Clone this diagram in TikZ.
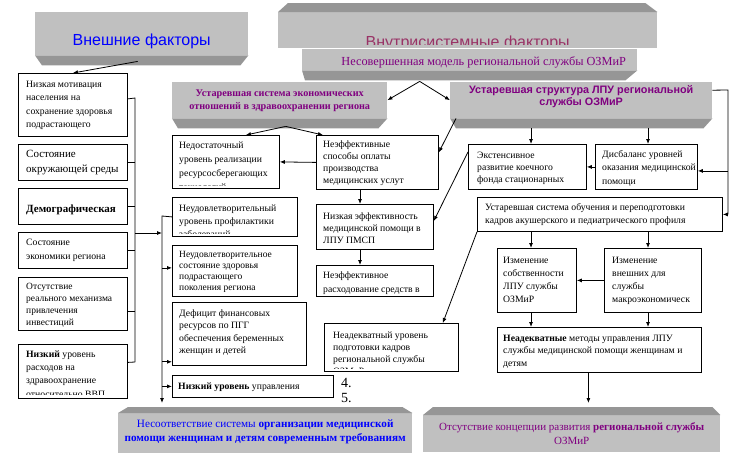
\documentclass[tikz,border=0pt]{standalone}
\usepackage{fontspec}
\setmainfont{Liberation Serif}
\newfontfamily\arial{Liberation Sans}
\usetikzlibrary{arrows.meta, calc, positioning}
\definecolor{facegray}{RGB}{192,192,192}
\definecolor{bevelgray}{RGB}{150,150,150}
\definecolor{plum}{RGB}{128,0,128}
\definecolor{rose}{RGB}{153,51,102}
\definecolor{titleblue}{RGB}{0,0,255}

\begin{document}
\begin{tikzpicture}[x=1pt, y=-1pt]

    % Define styles (text nodes sit on the baseline of their last line)
    \tikzstyle{face} = [fill=facegray, inner sep=0pt, anchor=north west]
    \tikzstyle{bevel} = [fill=bevelgray]
    \tikzstyle{factor} = [draw, line width=0.8pt, anchor=north west, inner sep=0pt]
    \tikzstyle{txt} = [anchor=base west, inner sep=0pt, align=left, font=\fontsize{9.7}{12.5}\selectfont]
    \tikzstyle{arr} = [-{Latex[length=5pt, width=4pt]}, line width=0.8pt]
    \tikzstyle{link} = [line width=0.8pt]

    \useasboundingbox (0,0) rectangle (735,458);

    % Gray title blocks
    \node[face, minimum width=213pt, minimum height=43pt] (ext) at (35,12) {};
    \fill[bevel] (ext.south west) -- (ext.south east) -- ++(-8,10) -- ($(ext.south west)+(7,10)$) -- cycle;
    \node[anchor=base, inner sep=0pt, font=\arial\fontsize{16}{18}\selectfont, text=titleblue] (ext-t) at ($(ext.north)+(0,33)$) {Внешние факторы};

    \node[face, minimum width=379pt, minimum height=36pt] (int) at (278,12) {};
    \fill[bevel] (int.north west) -- (int.north east) -- ++(-12,-9) -- ($(int.north west)+(10,-9)$) -- cycle;
    \begin{scope}
        \clip (int.north west) rectangle ($(int.south east)+(0,-4)$);
        \node[anchor=base, inner sep=0pt, font=\arial\fontsize{16}{18}\selectfont, text=rose] (int-t) at ($(int.north)+(0,35)$) {Внутрисистемные факторы};
    \end{scope}

    \node[face, minimum width=335pt, minimum height=21pt] (nesov) at (302,49) {};
    \fill[bevel] (nesov.south west) -- (nesov.south east) -- ++(-12,10) -- ($(nesov.south west)+(3,10)$) -- cycle;
    \node[anchor=base, inner sep=0pt, font=\fontsize{12.3}{14}\selectfont, text=plum] (nesov-t) at ($(nesov.north)+(14,16)$) {Несовершенная модель региональной службы ОЗМиР};

    \node[face, minimum width=215pt, minimum height=36pt] (econ) at (172,82) {};
    \fill[bevel] (econ.south west) -- (econ.south east) -- ++(-9,10) -- ($(econ.south west)+(6,10)$) -- cycle;
    \node[anchor=base, inner sep=0pt, align=center, font=\bfseries\fontsize{10.2}{13}\selectfont, text=plum] (econ-t) at ($(econ.north)+(0,27)$) {Устаревшая система экономических\\отношений в здравоохранении региона};

    \node[face, minimum width=262pt, minimum height=36pt] (struct) at (450,82) {};
    \fill[bevel] (struct.south west) -- (struct.south east) -- ++(-9,10) -- ($(struct.south west)+(6,10)$) -- cycle;
    \node[anchor=base, inner sep=0pt, align=center, font=\arial\bfseries\fontsize{10.8}{12.5}\selectfont, text=plum] (struct-t) at ($(struct.north)+(0,23.5)$) {Устаревшая структура ЛПУ региональной\\службы ОЗМиР};

    \node[face, minimum width=294pt, minimum height=40pt] (bot1) at (118,413) {};
    \fill[bevel] (bot1.north west) -- (bot1.north east) -- ++(-10,-6) -- ($(bot1.north west)+(10,-6)$) -- cycle;
    \node[anchor=base, inner sep=0pt, align=center, font=\fontsize{11.2}{14}\selectfont, text=titleblue] (bot1-t) at ($(bot1.north)+(0,28)$) {Несоответствие системы \textbf{организации медицинской}\\\textbf{помощи женщинам и детям современным требованиям}};

    \node[face, minimum width=297pt, minimum height=37pt] (bot2) at (423,415) {};
    \fill[bevel] (bot2.north west) -- (bot2.north east) -- ++(-8,-8) -- ($(bot2.north west)+(10,-8)$) -- cycle;
    \node[anchor=base, inner sep=0pt, align=center, font=\fontsize{11}{14}\selectfont, text=plum] (bot2-t) at ($(bot2.north)+(0,29)$) {Отсутствие концепции развития \textbf{региональной службы}\\ОЗМиР};

    % External factors
    \node[factor, minimum width=109pt, minimum height=63pt] (l1) at (18,73) {};
    \node[txt, font=\fontsize{9.7}{13.5}\selectfont] (l1-t) at ($(l1.north west)+(8,54.5)$) {Низкая мотивация\\населения на\\сохранение здоровья\\подрастающего};
    \node[factor, minimum width=109pt, minimum height=36pt] (l2) at (18,144) {};
    \node[txt, font=\fontsize{11}{15}\selectfont] (l2-t) at ($(l2.north west)+(8,28)$) {Состояние\\окружающей среды};
    \node[factor, minimum width=109pt, minimum height=36pt] (l3) at (18,188) {};
    \node[txt, font=\bfseries\fontsize{11}{15}\selectfont] (l3-t) at ($(l3.north west)+(8,24)$) {Демографическая};
    \node[factor, minimum width=109pt, minimum height=36pt] (l4) at (18,232) {};
    \node[txt, font=\fontsize{9.7}{14}\selectfont] (l4-t) at ($(l4.north west)+(8,27)$) {Состояние\\экономики региона};
    \node[factor, minimum width=109pt, minimum height=53pt] (l5) at (18,277) {};
    \node[txt, font=\fontsize{9.5}{11.7}\selectfont] (l5-t) at ($(l5.north west)+(8,48)$) {Отсутствие\\реального механизма\\привлечения\\инвестиций};
    \node[factor, minimum width=109pt, minimum height=54pt] (l6) at (18,344) {};
    \begin{scope}
        \clip (l6.north west) rectangle ($(l6.south east)+(0,-4)$);
        \node[txt, font=\fontsize{9.7}{13.3}\selectfont] (l6-t) at ($(l6.north west)+(8,53)$) {\textbf{Низкий} уровень\\расходов на\\здравоохранение\\относительно ВВП};
    \end{scope}

    % Middle columns
    \node[factor, minimum width=107pt, minimum height=53pt] (m1) at (172,135) {};
    \begin{scope}
        \clip (m1.north west) rectangle ($(m1.south east)+(0,-3)$);
        \node[txt, font=\fontsize{9.7}{14}\selectfont] (m1-t) at ($(m1.north west)+(7,55)$) {Недостаточный\\уровень реализации\\ресурсосберегающих\\технологий};
    \end{scope}
    \node[factor, minimum width=125pt, minimum height=39pt] (m2) at (172,197) {};
    \begin{scope}
        \clip (m2.north west) rectangle ($(m2.south east)+(0,-3)$);
        \node[txt, font=\fontsize{9.7}{13}\selectfont] (m2-t) at ($(m2.north west)+(7,40)$) {Неудовлетворительный\\уровень профилактики\\заболеваний};
    \end{scope}
    \node[factor, minimum width=125pt, minimum height=51pt] (m3) at (172,245) {};
    \node[txt, font=\fontsize{9.5}{11}\selectfont] (m3-t) at ($(m3.north west)+(7,45)$) {Неудовлетворительное\\состояние здоровья\\подрастающего\\поколения региона};
    \node[factor, minimum width=134pt, minimum height=63pt] (m4) at (172,302) {};
    \node[txt, font=\fontsize{9.7}{12.5}\selectfont] (m4-t) at ($(m4.north west)+(7,51.5)$) {Дефицит финансовых\\ресурсов по ПГГ\\обеспечения беременных\\женщин и детей};
    \node[factor, minimum width=161pt, minimum height=22pt] (m5) at (172,375) {};
    \node[txt] (m5-t) at ($(m5.north west)+(6,14)$) {\textbf{Низкий уровень} управления};
    \node[anchor=base west, inner sep=0pt, font=\fontsize{14}{15}\selectfont] (n4) at ($(m5.north east)+(7,12)$) {4.};
    \node[anchor=base west, inner sep=0pt, font=\fontsize{14}{15}\selectfont] (n5) at ($(m5.north east)+(7,27)$) {5.};

    \node[factor, minimum width=122pt, minimum height=54pt] (n1) at (316,135) {};
    \node[txt, font=\fontsize{9.7}{11.7}\selectfont] (n1-t) at ($(n1.north west)+(7,48)$) {Неэффективные\\способы оплаты\\производства\\медицинских услут};
    \node[factor, minimum width=117pt, minimum height=45pt] (n2) at (316,204) {};
    \node[txt, font=\fontsize{9.7}{12}\selectfont] (n2-t) at ($(n2.north west)+(7,39)$) {Низкая эффективность\\медицинской помощи в\\ЛПУ ПМСП};
    \node[factor, minimum width=117pt, minimum height=31pt] (n3) at (316,265) {};
    \node[txt, font=\fontsize{9.7}{14}\selectfont] (n3-t) at ($(n3.north west)+(7,27)$) {Неэффективное\\расходование средств в};
    \node[factor, minimum width=134pt, minimum height=48pt] (p1) at (324,323) {};
    \begin{scope}
        \clip (p1.north west) rectangle ($(p1.south east)+(0,-3)$);
        \node[txt, font=\fontsize{9.7}{12}\selectfont] (p1-t) at ($(p1.north west)+(9,51)$) {Неадекватный уровень\\подготовки кадров\\региональной службы\\ОЗМиР};
    \end{scope}

    % Right column
    \node[factor, minimum width=118pt, minimum height=45pt] (r1) at (468,144) {};
    \node[txt, font=\fontsize{9.7}{12}\selectfont] (r1-t) at ($(r1.north west)+(9,38)$) {Экстенсивное\\развитие коечного\\фонда стационарных};
    \node[factor, minimum width=102pt, minimum height=45pt] (r2) at (595,144) {};
    \node[txt, font=\fontsize{9.7}{13.5}\selectfont] (r2-t) at ($(r2.north west)+(7,40)$) {Дисбаланс уровней\\оказания медицинской\\помощи};
    \node[factor, minimum width=245pt, minimum height=34pt] (r3) at (477,197) {};
    \node[txt, font=\fontsize{9.7}{13}\selectfont] (r3-t) at ($(r3.north west)+(8,26)$) {Устаревшая система обучения и переподготовки\\кадров акушерского и педиатрического профиля};
    \node[factor, minimum width=79pt, minimum height=64pt] (r4) at (497,248) {};
    \node[txt, font=\fontsize{9.7}{13}\selectfont] (r4-t) at ($(r4.north west)+(6,54)$) {Изменение\\собственности\\ЛПУ службы\\ОЗМиР};
    \node[factor, minimum width=97pt, minimum height=64pt] (r5) at (604,248) {};
    \node[txt, font=\fontsize{9.7}{13}\selectfont] (r5-t) at ($(r5.north west)+(8,54)$) {Изменение\\внешних для\\службы\\макроэкономическ};
    \node[factor, minimum width=204pt, minimum height=45pt] (r6) at (497,327) {};
    \node[txt, font=\fontsize{9.7}{12.5}\selectfont] (r6-t) at ($(r6.north west)+(6,39)$) {\textbf{Неадекватные} методы управления ЛПУ\\службы медицинской помощи женщинам и\\детям};

    % Key points
    \coordinate (brk) at (135,98);
    \coordinate (brkmid) at (135,233);
    \coordinate (brkbot) at (135,362);
    \coordinate (spine) at (162,216);
    \coordinate (nsplit) at ($(nesov.south)+(-50,11)$);
    \coordinate (esplit) at ($(econ.south)+(6,8)$);
    \coordinate (colN) at (360,0);
    \coordinate (colA) at (531,0);
    \coordinate (colB) at (648,0);
    \coordinate (rail) at (728,90);
    \coordinate (r6out) at ($(r6.south)+(-11,0)$);

    % External factors links
    \draw[arr] ($(ext.south)+(-4,6)$) -- (l1.north);
    \draw[link] ($(l1.east)+(0,-6)$) -- (brk) -- (brkbot);
    \foreach \b in {l2, l3, l4}
        \draw[link] (\b.east) -- (\b.east -| brk);
    \draw[link] ($(l5.east)+(0,7)$) -- ($(l5.east -| brk)+(0,7)$);
    \draw[link] ($(l6.east)+(0,-9)$) -- (brkbot);
    \draw[arr] (brkmid) -- (brkmid -| spine);
    \draw[arr] (m2.west) -- (spine) -- ($(spine |- bot1.north)+(0,-10)$);
    \draw[arr] ($(m3.west -| spine)+(0,-3)$) -- ($(m3.west)+(0,-3)$);
    \draw[arr] ($(m4.south west -| spine)+(0,-4)$) -- ($(m4.south west)+(0,-4)$);
    \draw[arr] (m5.west -| spine) -- (m5.west);

    % Internal factors links
    \draw[arr] (nsplit) -- (econ.east);
    \draw[arr] (nsplit) -- (struct.west);
    \draw[arr] (esplit) -- ($(m1.north)+(20,0)$);
    \draw[arr] (esplit) -- ($(n1.north west)+(7,0)$);
    \draw[arr] (n1.west) -- (m1.east);
    \draw[arr] (colN |- n1.south) -- (colN |- n2.north);
    \draw[arr] (colN |- n2.south) -- (colN |- n3.north);
    \draw[arr] ($(struct.south west)+(6,0)$) -- ($(n1.east)+(0,-10)$);
    \draw[arr] ($(colA |- struct.south)+(0,10)$) -- (colA |- r1.north);
    \draw[arr] ($(colB |- struct.south)+(0,10)$) -- (colB |- r2.north);
    \draw[arr] (r2.west) -- (r1.east);
    \draw[link] ($(struct.east)+(0,-10)$) -- (rail) -- (rail |- r3.east);
    \draw[arr] (rail |- r3.east) -- (r3.east);
    \draw[arr] ($(rail |- r2.east)+(0,4)$) -- ($(r2.east)+(0,4)$);
    \draw[arr] ($(r1.west)+(0,-15)$) -- ($(n2.east)+(0,-6)$);
    \draw[arr] (r3.south west) -- ($(p1.north east)+(-16,0)$);
    \draw[arr] (colA |- r3.south) -- (colA |- r4.north);
    \draw[arr] (colB |- r3.south) -- (colB |- r5.north);
    \draw[arr] (r5.west) -- (r4.east);
    \draw[arr] (colA |- r4.south) -- (colA |- r6.north);
    \draw[arr] (colB |- r5.south) -- (colB |- r6.north);
    \draw[arr] (r6out) -- ($(r6out |- bot2.north)+(0,-12)$);

\end{tikzpicture}
\end{document}
